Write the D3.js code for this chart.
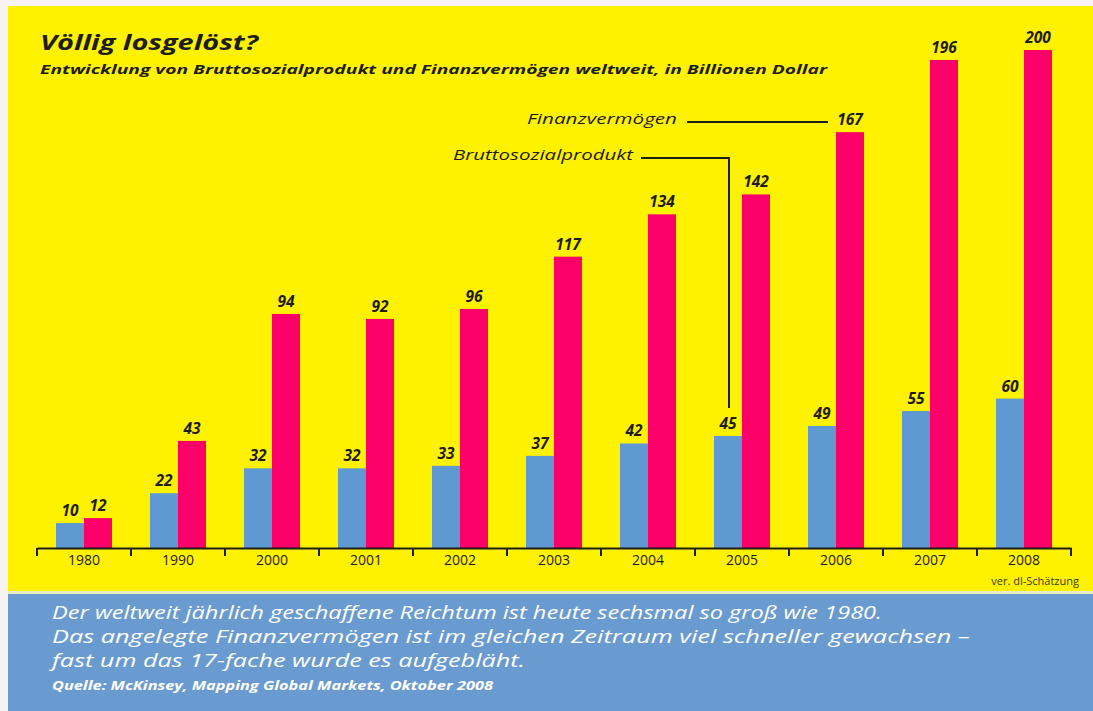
<!DOCTYPE html>
<html>
<head>
<meta charset="utf-8">
<script src="https://cdn.jsdelivr.net/npm/d3@7"></script>
<style>
  body { margin: 0; background: #f7f3f3; }
  svg { display: block; }
  text { font-family: "Open Sans", sans-serif; }
</style>
</head>
<body>
<div id="chart"></div>
<script>
// Werte in Billionen Dollar
const years = ["1980", "1990", "2000", "2001", "2002", "2003", "2004", "2005", "2006", "2007", "2008"]
const bruttosozialprodukt = [10, 22, 32, 32, 33, 37, 42, 45, 49, 55, 60]
const finanzvermoegen = [12, 43, 94, 92, 96, 117, 134, 142, 167, 196, 200]
const seriesKeys = ["Bruttosozialprodukt", "Finanzvermögen"]

const footerLines = [
    "Der weltweit jährlich geschaffene Reichtum ist heute sechsmal so groß wie 1980.",
    "Das angelegte Finanzvermögen ist im gleichen Zeitraum viel schneller gewachsen –",
    "fast um das 17-fache wurde es aufgebläht."
]

const yellow = "#fff200", pink = "#fb0069", blue = "#5f99d1", panelBlue = "#6a9bd0"

const W = 1093, H = 711
const axisY = 548

const svg = d3.select("#chart").append("svg")
    .attr("width", W)
    .attr("height", H)

// Hintergrund
svg.append("rect").attr("x", 8).attr("y", 6).attr("width", W - 8).attr("height", 585).attr("fill", yellow)
svg.append("rect").attr("x", 8).attr("y", 591).attr("width", W - 8).attr("height", 3).attr("fill", "#e9ecc0")
svg.append("rect").attr("x", 8).attr("y", 594).attr("width", W - 8).attr("height", H - 594).attr("fill", panelBlue)

// Titel
svg.append("text")
    .attr("x", 40).attr("y", 50)
    .attr("font-size", 21).attr("font-weight", "bold").attr("font-style", "italic")
    .attr("fill", "#1d1d1b")
    .attr("textLength", 218).attr("lengthAdjust", "spacingAndGlyphs")
    .text("Völlig losgelöst?")

svg.append("text")
    .attr("x", 40).attr("y", 74)
    .attr("font-size", 13).attr("font-weight", "bold").attr("font-style", "italic")
    .attr("fill", "#1d1d1b")
    .attr("textLength", 787).attr("lengthAdjust", "spacingAndGlyphs")
    .text("Entwicklung von Bruttosozialprodukt und Finanzvermögen weltweit, in Billionen Dollar")

// Skalen
let x0 = d3.scaleBand().domain(years).range([37, 1071])
let x1 = d3.scaleBand().domain(seriesKeys).range([19, 75])
let y = d3.scaleLinear().domain([0, 200]).range([axisY, 50])

let data = years.map((year, i) => ({
    year,
    values: [
        {key: seriesKeys[0], value: bruttosozialprodukt[i], color: blue},
        {key: seriesKeys[1], value: finanzvermoegen[i], color: pink}
    ]
}))

let groups = svg.selectAll(".group")
    .data(data)
    .enter()
    .append("g")
    .attr("class", "group")
    .attr("transform", d => "translate(" + x0(d.year) + ",0)")

groups.selectAll("rect")
    .data(d => d.values)
    .enter()
    .append("rect")
    .attr("x", d => x1(d.key))
    .attr("y", d => y(d.value))
    .attr("width", x1.bandwidth())
    .attr("height", d => axisY - y(d.value))
    .attr("fill", d => d.color)

groups.selectAll("text")
    .data(d => d.values)
    .enter()
    .append("text")
    .attr("x", d => x1(d.key) + x1.bandwidth() / 2)
    .attr("y", d => y(d.value) - 7)
    .attr("text-anchor", "middle")
    .attr("font-size", 15.5).attr("font-weight", "bold").attr("font-style", "italic")
    .attr("fill", "#1d1d1b")
    .text(d => d.value)

// x-Achse mit Strichen zwischen den Jahren
let axis = svg.append("g")
    .attr("transform", "translate(0," + axisY + ")")
    .call(d3.axisBottom(x0).tickSize(0).tickPadding(7))

axis.select(".domain").attr("stroke", "#1d1d1b").attr("stroke-width", 2)
axis.selectAll("text")
    .attr("font-family", "Open Sans").attr("font-size", 14).attr("fill", "#1d1d1b")

axis.selectAll(".sep")
    .data(years.map(d => x0(d)).concat([x0.range()[1]]))
    .enter()
    .append("line")
    .attr("x1", d => d).attr("x2", d => d)
    .attr("y1", 0).attr("y2", 8)
    .attr("stroke", "#1d1d1b").attr("stroke-width", 2)

svg.append("text")
    .attr("x", 1079).attr("y", 585)
    .attr("text-anchor", "end")
    .attr("font-size", 11).attr("fill", "#3a3a1a")
    .text("ver. dl-Schätzung")

// Beschriftung der Reihen
let fvBar = x0("2006") + x1("Finanzvermögen")
svg.append("text")
    .attr("x", 677).attr("y", 124)
    .attr("text-anchor", "end")
    .attr("font-size", 15).attr("font-style", "italic").attr("fill", "#1d1d1b")
    .attr("textLength", 150).attr("lengthAdjust", "spacingAndGlyphs")
    .text("Finanzvermögen")
svg.append("path")
    .attr("d", "M687,122H" + (fvBar - 8))
    .attr("fill", "none").attr("stroke", "#1d1d1b").attr("stroke-width", 2)

let bspX = x0("2005") + x1("Bruttosozialprodukt") + x1.bandwidth() / 2 + 1
svg.append("text")
    .attr("x", 633).attr("y", 160)
    .attr("text-anchor", "end")
    .attr("font-size", 15).attr("font-style", "italic").attr("fill", "#1d1d1b")
    .attr("textLength", 180).attr("lengthAdjust", "spacingAndGlyphs")
    .text("Bruttosozialprodukt")
svg.append("path")
    .attr("d", "M641,158H" + bspX + "V" + (y(45) - 28))
    .attr("fill", "none").attr("stroke", "#1d1d1b").attr("stroke-width", 2)

// Text im blauen Feld
svg.selectAll(".footer")
    .data(footerLines)
    .enter()
    .append("text")
    .attr("x", 52)
    .attr("y", (d, i) => 619 + i * 24)
    .attr("font-size", 18).attr("font-style", "italic").attr("fill", "#ffffff")
    .attr("textLength", (d, i) => [830, 918, 473][i]).attr("lengthAdjust", "spacingAndGlyphs")
    .text(d => d)

svg.append("text")
    .attr("x", 52).attr("y", 690)
    .attr("font-size", 12.5).attr("font-weight", "bold").attr("font-style", "italic").attr("fill", "#ffffff")
    .attr("textLength", 441).attr("lengthAdjust", "spacingAndGlyphs")
    .text("Quelle: McKinsey, Mapping Global Markets, Oktober 2008")
</script>
</body>
</html>
